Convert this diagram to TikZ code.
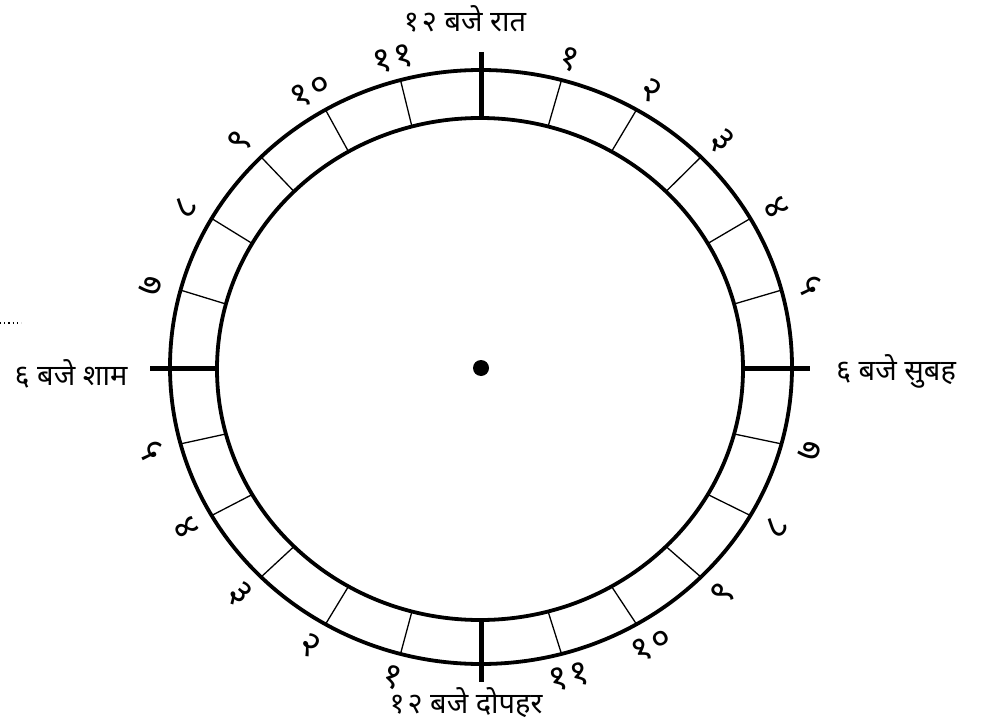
\documentclass[tikz,border=0pt]{standalone}
\usepackage{fontspec}
\newfontfamily\devfont[Script=Devanagari]{Noto Sans}
\usetikzlibrary{positioning}
\newcommand{\dgap}{\hspace{3pt}}
\tikzset{
  ringline/.style={line width=3.8pt},
  divline/.style={line width=1.3pt},
  hourtick/.style={line width=5pt},
  numlabel/.style={font=\devfont\fontsize{36}{36}\selectfont, inner sep=0pt},
  timelabel/.style={font=\devfont\fontsize{29}{29}\selectfont, inner sep=0pt, anchor=base},
  hubdot/.style={circle, fill, inner sep=0pt, minimum size=16pt}
}

\begin{document}
\begin{tikzpicture}[x=1pt,y=-1pt]
  \useasboundingbox (0,0) rectangle (987,727);

  % ring
  \draw[ringline] (481,367) ellipse [x radius=311, y radius=297];
  \draw[ringline] (480,369) ellipse [x radius=263, y radius=251];
  \foreach \t in {15,30,45,60,75,105,120,135,150,165,195,210,225,240,255,285,300,315,330,345}
    \draw[divline] ({481+311*sin(\t)},{367-297*cos(\t)}) -- ({480+263*sin(\t)},{369-251*cos(\t)});

  % quarter ticks
  \draw[hourtick] (481,52) -- (481,119);
  \draw[hourtick] (742,368) -- (810,368);
  \draw[hourtick] (481,618) -- (481,682);
  \draw[hourtick] (150,368) -- (219,368);

  \node[hubdot] (hub) at (481,368) {};

  % hour numbers
  \foreach \k/\num/\rot in {1/१/-15, 2/२/-30, 3/३/-45, 4/४/-60, 5/५/-75,
      7/७/75, 8/८/60, 9/९/45, 10/१\dgap०/30, 11/१\dgap१/15,
      13/१/-15, 14/२/-30, 15/३/-45, 16/४/-60, 17/५/-75,
      19/७/75, 20/८/60, 21/९/45, 22/१\dgap०/30, 23/१\dgap१/15}
    \node[numlabel, rotate=\rot] (h\k) at ({481+341*sin(15*\k)},{368-320*cos(15*\k)}) {\num};

  \node[timelabel] (midnight) at (465,32) {१\dgap२ बजे रात};
  \node[timelabel] (morning) at (896,380) {६ बजे सुबह};
  \node[timelabel] (noon) at (466,713) {१\dgap२ बजे दोपहर};
  \node[timelabel] (evening) at (71,385) {६ बजे शाम};

  \draw[line width=1.2pt, dash pattern=on 1.2pt off 3pt] (0,323) -- (21,323);
\end{tikzpicture}
\end{document}
